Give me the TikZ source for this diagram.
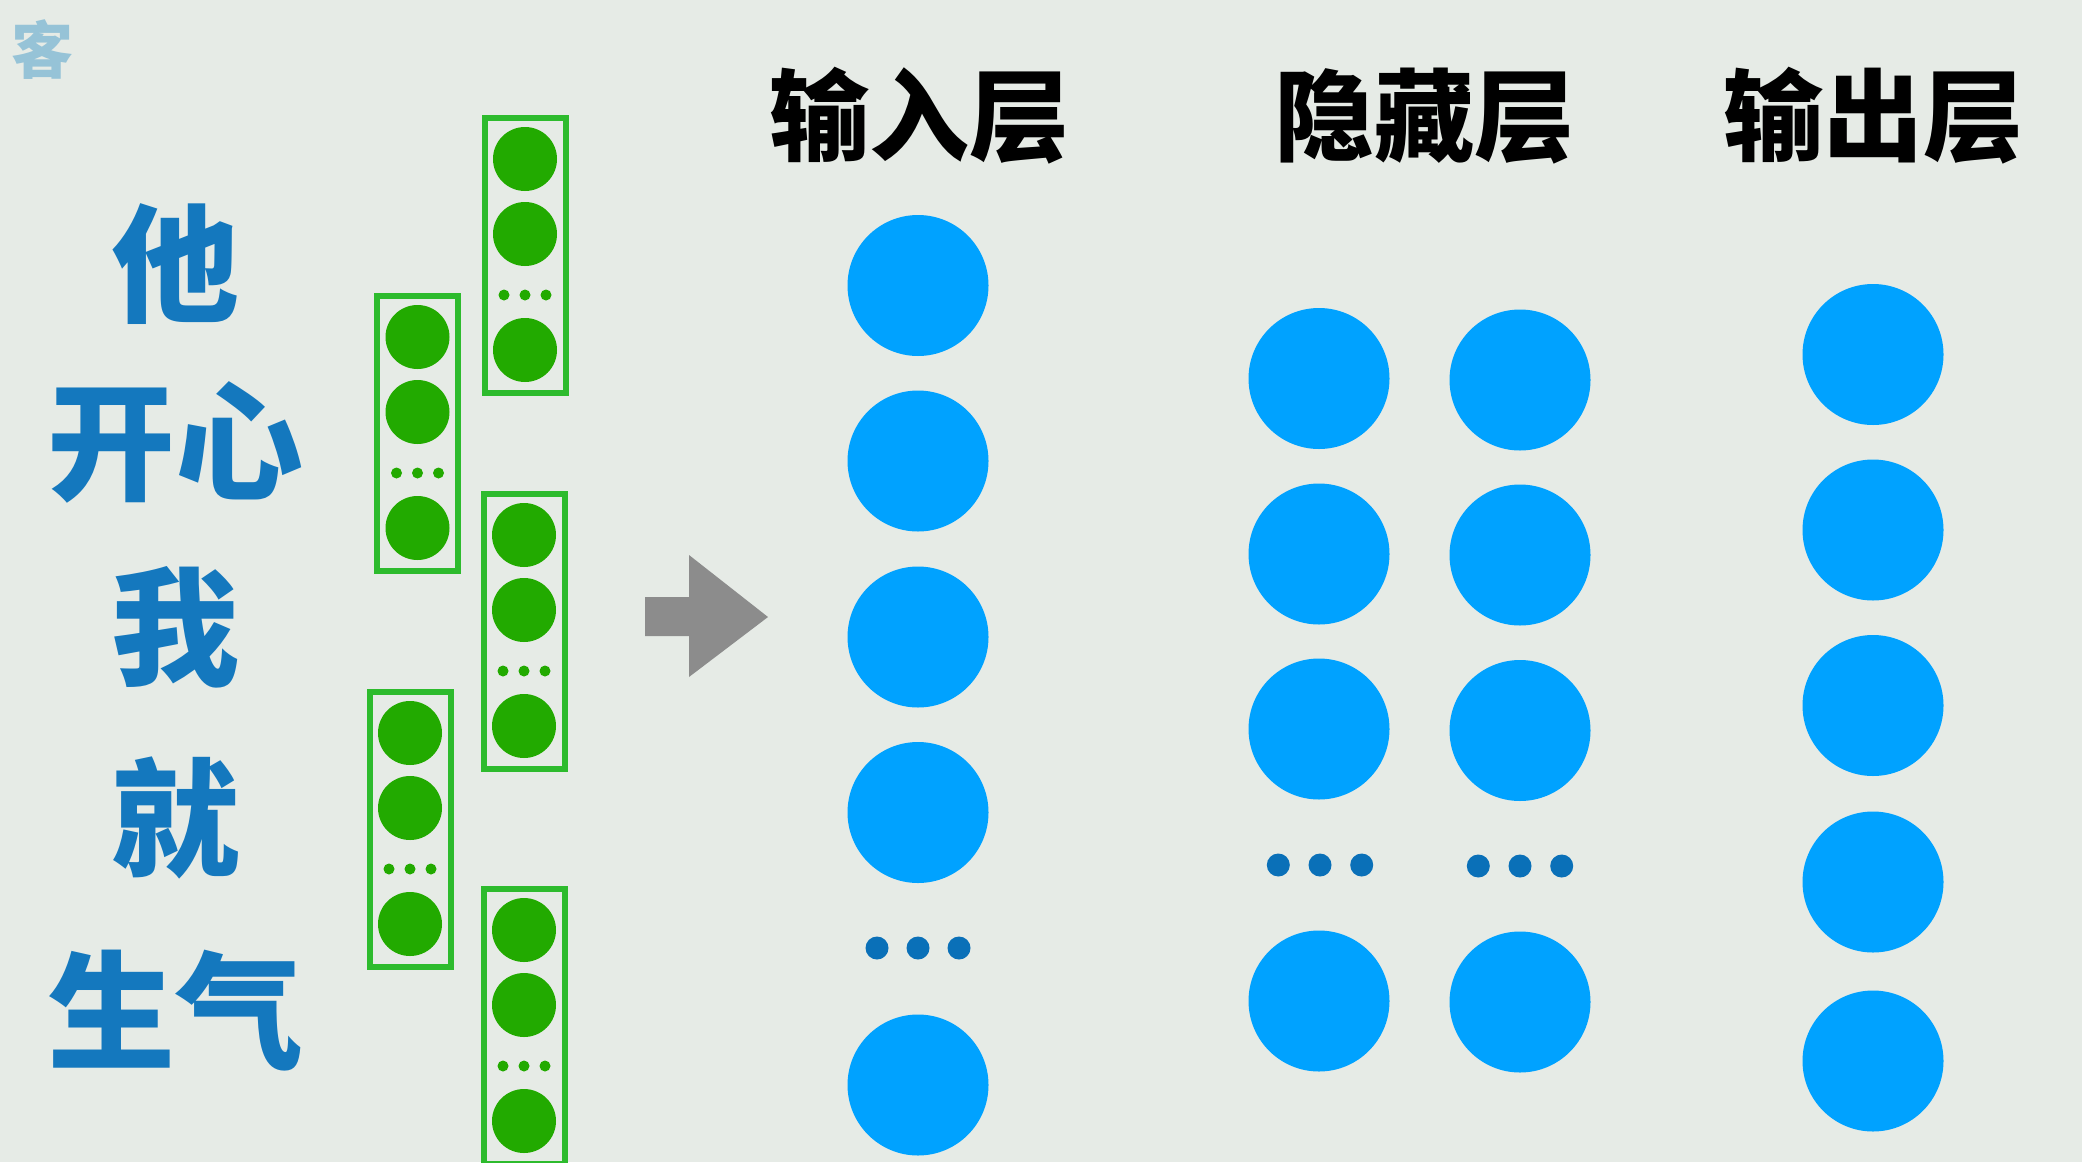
\documentclass[tikz,border=0pt]{standalone}
\usepackage{fontspec}
\newfontfamily\cjk{Noto Sans CJK SC}
\definecolor{bg}{HTML}{E6EBE6}
\definecolor{nodeblue}{HTML}{00A2FF}
\definecolor{dotblue}{HTML}{0A70B8}
\definecolor{wordblue}{HTML}{1478BE}
\definecolor{boxgreen}{HTML}{2DBB2D}
\definecolor{ballgreen}{HTML}{22AA00}
\definecolor{arrowgray}{HTML}{8C8C8C}
\definecolor{wmblue}{HTML}{96C3D7}
\tikzset{
  neuron/.style={circle, fill=nodeblue, minimum size=141pt, inner sep=0pt},
  bigdot/.style={circle, fill=dotblue, minimum size=23pt, inner sep=0pt},
  ball/.style={circle, fill=ballgreen, minimum size=64pt, inner sep=0pt},
  smalldot/.style={circle, fill=ballgreen, minimum size=11pt, inner sep=0pt},
  vecbox/.style={draw=boxgreen, line width=6pt, minimum width=81pt, minimum height=275pt, inner sep=0pt},
  title/.style={font=\cjk\bfseries\fontsize{100}{100}\selectfont, text=black, inner sep=0pt},
  word/.style={font=\cjk\bfseries\fontsize{128}{128}\selectfont, text=wordblue, inner sep=0pt},
}
\newcommand{\vecstack}[3]{% name, cx, top
  \node[vecbox] (#1) at (#2,#3+140.5) {};
  \node[ball] (#1-1) at (#2,#3+44) {};
  \node[ball] (#1-2) at (#2,#3+119) {};
  \foreach \k in {-1,0,1} \node[smalldot] (#1-d\k) at (#2+21*\k,#3+180) {};
  \node[ball] (#1-3) at (#2,#3+235) {};
}
\begin{document}
\begin{tikzpicture}[x=1pt,y=-1pt]
\fill[bg] (0,0) rectangle (2082,1162);
\useasboundingbox (0,0) rectangle (2082,1162);
% watermark
\node[font=\cjk\bfseries\fontsize{62}{62}\selectfont, text=wmblue, inner sep=0pt] (wm) at (43,50) {客};
% titles
\node[title] (tin) at (919,116) {输入层};
\node[title] (thid) at (1424,116) {隐藏层};
\node[title] (tout) at (1873,116) {输出层};
% left words
\node[word] (w1) at (175,264) {他};
\node[word] (w2) at (175,442) {开心};
\node[word] (w3) at (175,627) {我};
\node[word] (w4) at (175,818) {就};
\node[word] (w5) at (175,1011) {生气};
% word vectors
\vecstack{va}{525}{115}
\vecstack{vb}{417.5}{293}
\vecstack{vc}{524}{491}
\vecstack{vd}{410}{689}
\vecstack{ve}{524}{886}
% arrow
\fill[arrowgray] (645,597) -- (689,597) -- (689,555) -- (768,617) -- (689,677) -- (689,636) -- (645,636) -- cycle;
% input layer
\foreach \i/\y in {1/285.5,2/461,3/637,4/812.5} \node[neuron] (in\i) at (918,\y) {};
\foreach \k in {-1,0,1} \node[bigdot] (ind\k) at (918+41*\k,948) {};
\node[neuron] (in5) at (918,1085) {};
% hidden layer 1
\foreach \i/\y in {1/378.5,2/554,3/729} \node[neuron] (ha\i) at (1319,\y) {};
\foreach \k in {-1,0,1} \node[bigdot] (had\k) at (1320+41.7*\k,865) {};
\node[neuron] (ha4) at (1319,1001) {};
% hidden layer 2
\foreach \i/\y in {1/380,2/555,3/730.5} \node[neuron] (hb\i) at (1520,\y) {};
\foreach \k in {-1,0,1} \node[bigdot] (hbd\k) at (1520+41.7*\k,866) {};
\node[neuron] (hb4) at (1520,1002) {};
% output layer
\foreach \i/\y in {1/354.5,2/530,3/705.5,4/882,5/1061} \node[neuron] (out\i) at (1873,\y) {};
\end{tikzpicture}
\end{document}
